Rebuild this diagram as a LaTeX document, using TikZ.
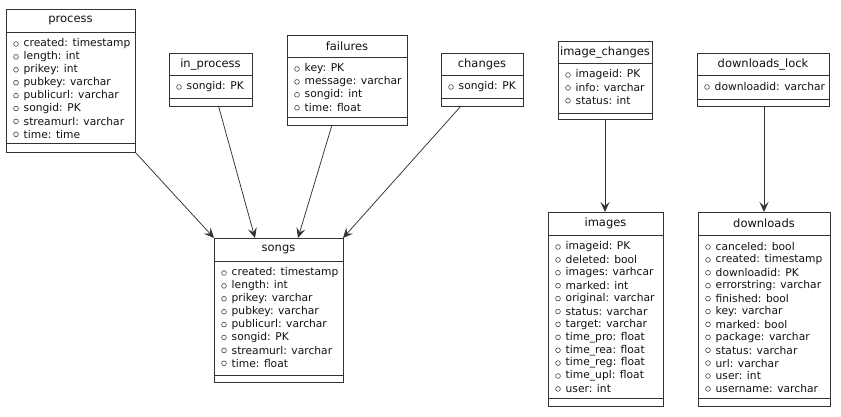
\documentclass[tikz,border=0pt]{standalone}
\usepackage{fontspec}
\setmainfont{DejaVu Sans}
\usetikzlibrary{arrows.meta,calc}
\definecolor{edge}{HTML}{333333}
\definecolor{ink}{HTML}{111111}
\tikzset{
  tblbox/.style={draw=edge,line width=0.9pt,fill=white,inner sep=0pt,outer sep=0pt,anchor=north west},
  sepline/.style={draw=edge,line width=0.9pt},
  tbltitle/.style={font=\fontsize{11.5}{11.5}\selectfont,text=ink,inner sep=0pt},
  attrtext/.style={font=\fontsize{10.7}{10.7}\selectfont,text=ink,inner sep=0pt,anchor=west},
  attrdot/.style={draw=ink!85,line width=0.55pt},
  rel/.style={draw=edge,line width=0.75pt,-{Stealth[length=10pt,width=9pt,inset=4pt]}}
}
% \tbl{name}{x1}{y1}{x2}{y2}{titlesep}{attrsep}{title}{attrs}
\newcommand{\tbl}[9]{%
  \node[tblbox,minimum width={(#4-#2)*1pt},minimum height={(#5-#3)*1pt}] (#1) at (#2,#3) {};
  \draw[sepline] (#2,#6) -- (#4,#6);
  \draw[sepline] (#2,#7) -- (#4,#7);
  \node[tbltitle] (#1-title) at ({(#2+#4)/2},{(#3+#6)/2}) {#8};
  \foreach \a [count=\i] in {#9} {
    \draw[attrdot] ({#2+10},{#6+12+(\i-1)*12.9}) circle (2.4pt);
    \node[attrtext] (#1-a\i) at ({#2+17.5},{#6+12+(\i-1)*12.9}) {\a};
  }
}
\begin{document}
\begin{tikzpicture}[x=1pt,y=-1pt]
\useasboundingbox (0,0) rectangle (841,417);
\fill[white] (0,0) rectangle (841,417);
\tbl{process}{6}{9}{135}{152}{32}{143}{process}{created: timestamp,length: int,prikey: int,pubkey: varchar,publicurl: varchar,songid: PK,streamurl: varchar,time: time}
\tbl{inprocess}{169}{53}{252}{106}{75}{98}{in\_process}{songid: PK}
\tbl{failures}{287}{35}{407}{125}{57}{117}{failures}{key: PK,message: varchar,songid: int,time: float}
\tbl{changes}{441}{53}{523}{106}{75}{98}{changes}{songid: PK}
\tbl{songs}{214}{238}{343}{382}{261}{375}{songs}{created: timestamp,length: int,prikey: varchar,pubkey: varchar,publicurl: varchar,songid: PK,streamurl: varchar,time: float}
\tbl{imagechanges}{558}{41}{652}{119}{63}{113}{image\_changes}{imageid: PK,info: varchar,status: int}
\tbl{downloadslock}{697}{53}{829}{106}{75}{99}{downloads\_lock}{downloadid: varchar}
\tbl{images}{548}{212}{663}{406}{235}{398}{images}{imageid: PK,deleted: bool,images: varhcar,marked: int,original: varchar,status: varchar,target: varchar,time\_pro: float,time\_rea: float,time\_reg: float,time\_upl: float,user: int}
\tbl{downloads}{698}{212}{830}{406}{235}{398}{downloads}{canceled: bool,created: timestamp,downloadid: PK,errorstring: varchar,finished: bool,key: varchar,marked: bool,package: varchar,status: varchar,url: varchar,user: int,username: varchar}
\draw[rel] (process.south east) -- (songs.north west);
\draw[rel] ([xshift=8pt]inprocess.south) -- ([xshift=-23.5pt]songs.north);
\draw[rel] ([xshift=-15pt]failures.south) -- ([xshift=19.5pt]songs.north);
\draw[rel] ([xshift=-21pt]changes.south) -- (songs.north east);
\draw[rel] (imagechanges.south) -- ([xshift=-0.5pt]images.north);
\draw[rel] ([xshift=1pt]downloadslock.south) -- (downloads.north);
\end{tikzpicture}
\end{document}
